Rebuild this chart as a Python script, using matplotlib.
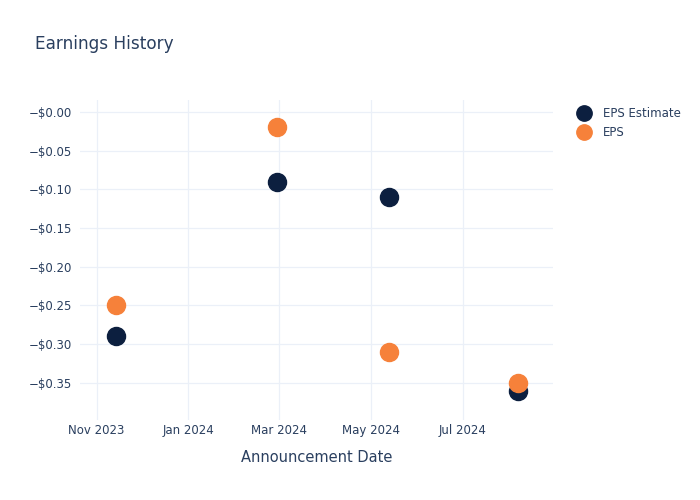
import matplotlib.pyplot as plt
import pandas as pd

# data
dates = pd.to_datetime(['2023-11-14', '2024-02-29', '2024-05-13', '2024-08-07'])
eps_estimate = [-0.29, -0.09, -0.11, -0.36]
eps_actual = [-0.25, -0.02, -0.31, -0.35]

y_ticks = [0.0, -0.05, -0.10, -0.15, -0.20, -0.25, -0.30, -0.35]
x_ticks = pd.to_datetime(['2023-11-01', '2024-01-01', '2024-03-01', '2024-05-01', '2024-07-01'])
x_labels = ['Nov 2023', 'Jan 2024', 'Mar 2024', 'May 2024', 'Jul 2024']

txt = '#2a3f5f'
grid = '#ebf0f8'

fig = plt.figure(figsize=(7, 5), dpi=100)
ax = fig.add_axes([0.1143, 0.16, 0.79 - 0.1143, 0.64])

ax.plot(dates, eps_estimate, 'o', ms=13, color='#0c1f3f', label='EPS Estimate', zorder=3)
ax.plot(dates, eps_actual, 'o', ms=13, color='#f6813a', label='EPS', zorder=4)

ax.set_xlim(pd.Timestamp('2023-10-21'), pd.Timestamp('2024-08-30'))
ax.set_ylim(-0.398, 0.0155)

ax.set_yticks(y_ticks)
ax.set_yticklabels(['\u2212$%.2f' % abs(v) for v in y_ticks])
ax.set_xticks(x_ticks)
ax.set_xticklabels(x_labels)

for s in ax.spines.values():
    s.set_visible(False)
ax.grid(True, color=grid, lw=0.9)
ax.set_axisbelow(True)
ax.tick_params(length=0, labelsize=8.5, labelcolor=txt, pad=6)
ax.tick_params(axis='x', pad=3)

ax.set_xlabel('Announcement Date', fontsize=10.5, color=txt, labelpad=9)
fig.text(35 / 700, 1 - 44 / 500, 'Earnings History', fontsize=12.2, color=txt, va='center')

ax.legend(loc='upper left', bbox_to_anchor=(1.025, 1.0), frameon=False, fontsize=8.5,
          labelcolor=txt, handletextpad=0.6, borderaxespad=0.2, labelspacing=0.5, markerscale=0.85)

fig.savefig('out.png', dpi=100)
